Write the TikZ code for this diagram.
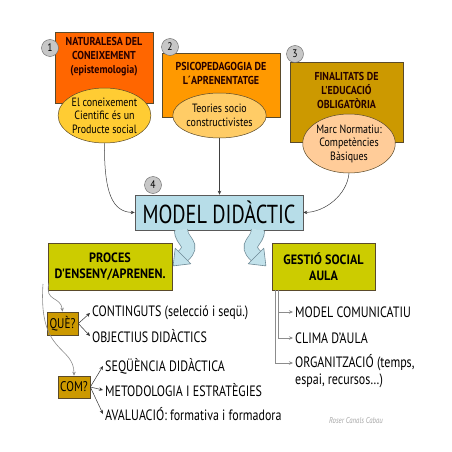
\documentclass[tikz,border=0pt]{standalone}
\usepackage{fontspec}
\setmainfont{PT Sans}
\newfontfamily\bodyf[FakeStretch=0.8]{PT Sans}
\newfontfamily\ellf[FakeStretch=0.83]{PT Sans}
\newfontfamily\headf[FakeStretch=0.87]{PT Sans}
\newfontfamily\olivef[FakeStretch=0.9]{PT Sans}
\newfontfamily\bigf[FakeStretch=0.78]{PT Sans}
\usetikzlibrary{arrows.meta,shapes.geometric}
\definecolor{cOne}{HTML}{FF6600}
\definecolor{cTwo}{HTML}{FF9900}
\definecolor{cThree}{HTML}{CC9900}
\definecolor{eOne}{HTML}{FFCC33}
\definecolor{eTwo}{HTML}{FFCC66}
\definecolor{eThree}{HTML}{FFCC99}
\definecolor{cModel}{HTML}{B7DDE8}
\definecolor{cOlive}{HTML}{CCCC00}
\definecolor{cGold}{HTML}{CC9900}
\definecolor{cEdge}{HTML}{5A4A2A}
\definecolor{cLine}{HTML}{8C8C8C}
\definecolor{cArrowEdge}{HTML}{6E8A96}
\tikzset{
  topbox/.style={draw=cEdge, line width=0.5pt, rectangle, inner sep=0pt},
  topell/.style={draw=cEdge, line width=0.5pt, ellipse, inner sep=0pt, align=center, font=\ellf\fontsize{12}{13.5}\selectfont},
  headtxt/.style={align=center, font=\headf\bfseries\fontsize{11.5}{14}\selectfont, text=black!85!red},
  numc/.style={circle, draw=black!60, fill=black!22, minimum size=17pt, inner sep=0pt, font=\headf\fontsize{11}{11}\selectfont},
  arr/.style={draw=black!75, line width=0.5pt, -{Stealth[length=4pt,width=3.5pt]}},
  garr/.style={draw=cLine, line width=0.6pt, -{Stealth[length=4pt,width=3.5pt]}},
  bk/.style={draw=black!80, line width=0.5pt, -{Stealth[length=4pt,width=3.5pt]}},
  item/.style={anchor=west, inner sep=2pt, font=\bodyf\fontsize{15}{17}\selectfont},
  olive/.style={draw=cEdge, fill=cOlive, line width=0.6pt, inner sep=0pt, align=center, font=\olivef\bfseries\fontsize{13.5}{16}\selectfont},
  qbox/.style={draw=cEdge, fill=cGold, line width=0.6pt, inner sep=0pt, font=\bodyf\fontsize{14}{14}\selectfont}
}
\newcommand{\myCurvArrow}{%
  \draw[cArrowEdge, line width=14pt] (0,0) .. controls (0,12) and (15,14) .. (2,26);
  \draw[cModel!85!white, line width=12.6pt] (0,-0.5) .. controls (0,12) and (15,14) .. (2,26);
  \draw[cArrowEdge, fill=cModel!85!white, line width=0.6pt, line join=round] (9.8,33.8) -- (-7.9,35.9) -- (-5.8,18.2) -- cycle;
}
\begin{document}
\begin{tikzpicture}[x=1pt,y=-1pt]
\useasboundingbox[fill=white] (0,0) rectangle (452,452);

% top boxes
\node[topbox, fill=cOne, minimum width=98pt, minimum height=71pt] (b1) at (104,67.5) {};
\node[headtxt] (h1) at (104,57) {NATURALESA DEL\\CONEIXEMENT\\(epistemologia)};
\node[topbox, fill=cTwo, minimum width=118pt, minimum height=64pt] (b2) at (221,85) {};
\node[headtxt] (h2) at (221,73) {PSICOPEDAGOGIA DE\\L´APRENENTATGE};
\node[topbox, fill=cThree, minimum width=113pt, minimum height=80pt] (b3) at (346.5,102) {};
\node[headtxt] (h3) at (346.5,90) {FINALITATS DE\\L'EDUCACIÓ\\OBLIGATÒRIA};

% ellipses
\node[topell, fill=eOne, minimum width=85pt, minimum height=55pt] (e1) at (104.5,115.5) {El coneixement\\Cientific és un\\Producte social};
\node[topell, fill=eTwo, minimum width=73pt, minimum height=45pt] (e2) at (219.5,115.5) {Teories socio\\constructivistes};
\node[topell, fill=eThree, minimum width=88pt, minimum height=59pt] (e3) at (349,143.5) {Marc Normatiu:\\Competències\\Bàsiques};

% numbers
\node[numc] (n1) at (50,48) {1};
\node[numc] (n2) at (170,47) {2};
\node[numc] (n3) at (295,54) {3};

% model box
\node[draw=black!65, fill=cModel, line width=0.6pt, minimum width=168pt, minimum height=35pt, inner sep=0pt, font=\bigf\fontsize{26}{26}\selectfont] (model) at (219,212.5) {MODEL DIDÀCTIC};
\node[numc] (n4) at (153,185) {4};

% connectors to model
\draw[arr] (e1.south) .. controls (104,192) and (112,212) .. (model.west);
\draw[arr] (e2.south) -- (e2.south |- model.north);
\draw[arr] (e3.south) .. controls (347,195) and (325,212) .. (model.east);

% curved block arrows
\begin{scope}[shift={(181,230)}]
\myCurvArrow
\end{scope}
\begin{scope}[shift={(258,230)}, xscale=-1]
\myCurvArrow
\end{scope}

% second level boxes
\node[olive, minimum width=124pt, minimum height=47pt] (proces) at (110,266.5) {PROCES\\D'ENSENY/APRENEN.};
\node[olive, minimum width=103pt, minimum height=47pt] (gestio) at (323.5,266.5) {GESTIÓ SOCIAL\\AULA};

% QUE / COM
\node[qbox, minimum width=31pt, minimum height=23pt] (que) at (62.5,323.5) {QUÈ?};
\node[qbox, minimum width=32pt, minimum height=22pt] (com) at (74,387) {COM?};

\coordinate (pa) at (49,283);
\coordinate (pb) at (43,284);
\draw[garr] (pa) .. controls (44,302) and (61,296) .. (que.north);
\draw[garr] (pb) .. controls (38,355) and (74,345) .. (com.north);

% items left
\node[item] (t1) at (90,313) {CONTINGUTS (selecció i seqü.)};
\node[item] (t2) at (90,336) {OBJECTIUS DIDÀCTICS};
\node[item] (t3) at (103,366) {SEQÜÈNCIA DIDÀCTICA};
\node[item] (t4) at (103,390) {METODOLOGIA I ESTRATÈGIES};
\node[item] (t5) at (103,414) {AVALUACIÓ: formativa i formadora};

\draw[bk] (que.east) -- (t1.west);
\draw[bk] (que.east) -- (t2.west);
\draw[bk] (com.east) -- (t3.west);
\draw[bk] (com.east) -- (t4.west);
\draw[bk] (com.east) -- (t5.west);

% items right
\node[item] (m1) at (293,312) {MODEL COMUNICATIU};
\node[item] (m2) at (293,338) {CLIMA D’AULA};
\node[item] (m3) at (293,363) {ORGANITZACIÓ (temps,};
\node[item] (m3b) at (293,381) {espai, recursos…)};

\coordinate (g1) at (278,290);
\coordinate (g2) at (275,290);
\draw[garr] (g1) |- (m1.west);
\draw[garr] (g1) |- (m2.west);
\draw[garr] (g2) |- (m3.west);

% watermark
\node[font=\bodyf\itshape\fontsize{8.5}{9}\selectfont, text=black!35] (wm) at (356,421) {Roser Canals Cabau};
\end{tikzpicture}
\end{document}
